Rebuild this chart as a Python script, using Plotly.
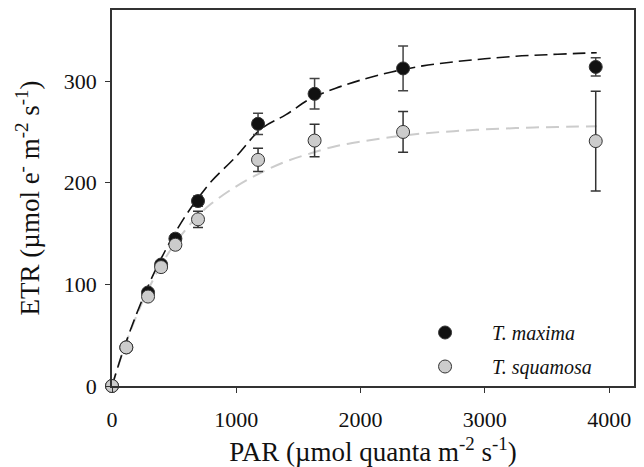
import plotly.graph_objects as go

# Data
par = [0, 115, 290, 395, 510, 692, 1175, 1630, 2342, 3892]
etr_maxima = [0, 38, 92, 119.5, 145, 182, 258, 287.5, 312.5, 314]
err_maxima = [0, 0, 3, 3, 4, 5, 10.5, 15, 22, 9]
etr_squamosa = [0, 38, 88, 117, 139, 164, 222.5, 241.5, 250, 241]
err_squamosa = [0, 0, 3, 3, 4, 8, 11.5, 16, 20, 49]

# Fitted curves
fit_x = [0, 100, 200, 300, 400, 500, 600, 700, 800, 1000, 1200, 1400, 1600, 1800,
         2000, 2250, 2500, 2750, 3000, 3250, 3500, 3750, 3900]
fit_maxima = [0, 38.5, 71.7, 101, 126.5, 149, 169, 186, 201.5, 226, 253, 267, 283, 293,
              301, 309, 315, 319, 322, 324.5, 326, 327.3, 328]
fit_squamosa = [0, 38, 70, 97, 120, 139, 155, 168.5, 179.5, 196.5, 210, 221, 229, 236,
                240.5, 245, 248.5, 250.8, 252.5, 253.8, 254.7, 255.3, 255.6]

FONT = "Liberation Serif"

fig = go.Figure()

fig.add_trace(go.Scatter(x=fit_x, y=fit_squamosa, mode="lines", line_shape="spline",
                         line=dict(color="#cccccc", width=2, dash="13px,7px"),
                         showlegend=False, hoverinfo="skip"))
fig.add_trace(go.Scatter(x=fit_x, y=fit_maxima, mode="lines", line_shape="spline",
                         line=dict(color="#111111", width=1.6, dash="13px,6px"),
                         showlegend=False, hoverinfo="skip"))

fig.add_trace(go.Scatter(x=par, y=etr_maxima, mode="markers", name="<i>T. maxima</i>",
                         legendgroup="a", cliponaxis=False,
                         marker=dict(size=13, color="#111111", line=dict(color="#333333", width=1)),
                         error_y=dict(type="data", array=err_maxima, visible=True,
                                      color="#444444", thickness=1.5, width=5)))
fig.add_trace(go.Scatter(x=par, y=etr_squamosa, mode="markers", name="<i>T. squamosa</i>",
                         legendgroup="b", cliponaxis=False,
                         marker=dict(size=13, color="#cccccc", line=dict(color="#333333", width=1)),
                         error_y=dict(type="data", array=err_squamosa, visible=True,
                                      color="#333333", thickness=1.5, width=5)))

axis_common = dict(showline=True, linecolor="#333333", linewidth=1.5, mirror=True,
                   ticks="outside", ticklen=5, tickwidth=1.2, tickcolor="#333333",
                   showgrid=False, zeroline=False, automargin=False,
                   tickfont=dict(family=FONT, size=22, color="#111111"))

fig.update_xaxes(range=[0, 4200], tickvals=[0, 1000, 2000, 3000, 4000], ticklabelstandoff=8,
                 title=dict(text="PAR (µmol quanta m<sup>-2</sup> s<sup>-1</sup>)",
                            font=dict(family=FONT, size=27, color="#111111"), standoff=20),
                 **axis_common)
fig.update_yaxes(range=[0, 370], tickvals=[0, 100, 200, 300], ticklabelstandoff=4,
                 title=dict(text="ETR (µmol e<sup>-</sup> m<sup>-2</sup> s<sup>-1</sup>)",
                            font=dict(family=FONT, size=27, color="#111111"), standoff=16),
                 **axis_common)

# The page body adds an 8px offset, so the figure is sized to fit the window.
fig.update_layout(
    width=636, height=459,
    margin=dict(l=104, r=10, t=2, b=81),
    paper_bgcolor="white", plot_bgcolor="white",
    legend=dict(x=0.548, y=0.0, xanchor="left", yanchor="bottom",
                itemwidth=84, tracegroupgap=5, traceorder="grouped",
                bgcolor="rgba(0,0,0,0)",
                font=dict(family=FONT, size=20, color="#111111")),
)

fig.write_html("out.html")
